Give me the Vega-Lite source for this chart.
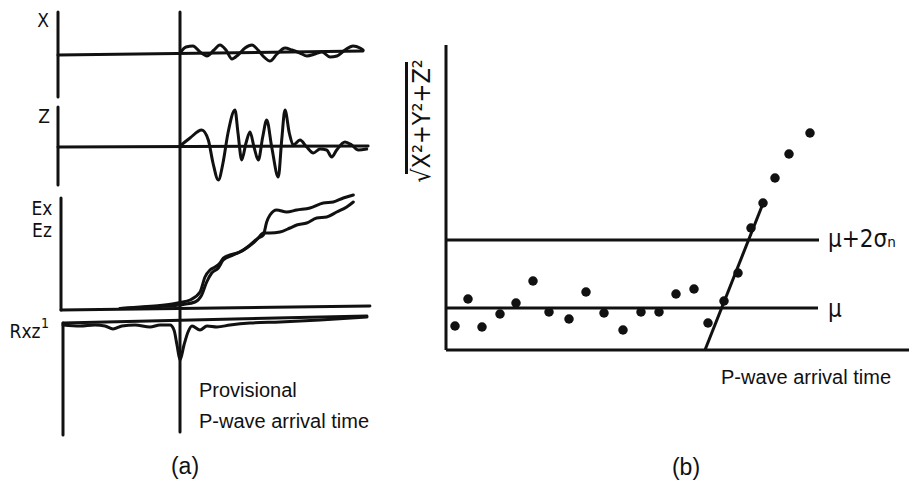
{
  "$schema": "https://vega.github.io/schema/vega-lite/v6.json",
  "padding": 0,
  "spacing": 0,
  "bounds": "flush",
  "background": "white",
  "config": {"view": {"stroke": null}, "text": {"color": "#111"}},
  "hconcat": [
    {
      "width": 400,
      "height": 493,
      "layer": [
        {
          "data": {"values": [
            {"id": "xaxis", "t": -0.667, "v": 48.1}, {"id": "xaxis", "t": -0.667, "v": 39.6},
            {"id": "arrival", "t": 40, "v": 48.1}, {"id": "arrival", "t": 40, "v": 6.1},
            {"id": "xbase", "t": -0.667, "v": 43.8}, {"id": "xbase", "t": 101, "v": 44.2},
            {"id": "zaxis", "t": -0.667, "v": 38.6}, {"id": "zaxis", "t": -0.667, "v": 30.8},
            {"id": "zbase", "t": -0.667, "v": 34.6}, {"id": "zbase", "t": 102.7, "v": 34.7},
            {"id": "eaxis", "t": 0.333, "v": 29.5}, {"id": "eaxis", "t": 0.333, "v": 18.3},
            {"id": "ebase", "t": 0.333, "v": 18.3}, {"id": "ebase", "t": 103.3, "v": 18.7},
            {"id": "rone", "t": 1, "v": 17.0}, {"id": "rone", "t": 102.3, "v": 17.7},
            {"id": "raxis", "t": 1, "v": 17.0}, {"id": "raxis", "t": 1, "v": 5.8}
          ]},
          "mark": {"type": "line", "stroke": "#111", "strokeWidth": 3, "strokeCap": "round"},
          "encoding": {
            "x": {"field": "t", "type": "quantitative", "scale": {"domain": [-20, 113.333], "nice": false, "zero": false}, "axis": null},
            "y": {"field": "v", "type": "quantitative", "scale": {"domain": [0, 49.3], "nice": false, "zero": false}, "axis": null},
            "detail": {"field": "id"}
          }
        },
        {
          "data": {"values": [
            {"id": "X", "t": 40, "v": 44.0}, {"id": "X", "t": 42, "v": 44.6}, {"id": "X", "t": 44.33, "v": 44.7},
            {"id": "X", "t": 46.67, "v": 44.1}, {"id": "X", "t": 49, "v": 43.7}, {"id": "X", "t": 51.33, "v": 44.3},
            {"id": "X", "t": 53.33, "v": 44.8}, {"id": "X", "t": 55.33, "v": 44.3}, {"id": "X", "t": 57.33, "v": 43.4},
            {"id": "X", "t": 59.33, "v": 43.8}, {"id": "X", "t": 61.67, "v": 44.5}, {"id": "X", "t": 64, "v": 44.8},
            {"id": "X", "t": 66, "v": 44.3}, {"id": "X", "t": 68, "v": 43.6}, {"id": "X", "t": 70, "v": 43.2},
            {"id": "X", "t": 72.33, "v": 43.9}, {"id": "X", "t": 75, "v": 44.5}, {"id": "X", "t": 77.33, "v": 44.3},
            {"id": "X", "t": 80, "v": 44.0}, {"id": "X", "t": 82.33, "v": 43.7}, {"id": "X", "t": 85, "v": 43.9},
            {"id": "X", "t": 87.33, "v": 44.1}, {"id": "X", "t": 90, "v": 43.6}, {"id": "X", "t": 92.33, "v": 43.7},
            {"id": "X", "t": 95, "v": 44.3}, {"id": "X", "t": 97.67, "v": 44.7}, {"id": "X", "t": 100, "v": 44.5},
            {"id": "X", "t": 101, "v": 44.3},
            {"id": "Z", "t": 40, "v": 34.7}, {"id": "Z", "t": 43.33, "v": 35.5}, {"id": "Z", "t": 47.23, "v": 36.3},
            {"id": "Z", "t": 49.43, "v": 35.3}, {"id": "Z", "t": 51, "v": 33.0}, {"id": "Z", "t": 52.77, "v": 31.3},
            {"id": "Z", "t": 54.33, "v": 33.0}, {"id": "Z", "t": 56, "v": 36.0}, {"id": "Z", "t": 58.33, "v": 38.3},
            {"id": "Z", "t": 59.33, "v": 36.0}, {"id": "Z", "t": 60.57, "v": 33.3}, {"id": "Z", "t": 62, "v": 35.0},
            {"id": "Z", "t": 63.33, "v": 36.1}, {"id": "Z", "t": 64.67, "v": 34.6}, {"id": "Z", "t": 66.1, "v": 33.3},
            {"id": "Z", "t": 67.57, "v": 35.6}, {"id": "Z", "t": 68.9, "v": 37.3}, {"id": "Z", "t": 70.57, "v": 34.6},
            {"id": "Z", "t": 72.77, "v": 31.6}, {"id": "Z", "t": 73.9, "v": 35.3}, {"id": "Z", "t": 75, "v": 38.3},
            {"id": "Z", "t": 76.43, "v": 36.0}, {"id": "Z", "t": 77.77, "v": 34.8}, {"id": "Z", "t": 80, "v": 35.3},
            {"id": "Z", "t": 82.23, "v": 34.6}, {"id": "Z", "t": 84.43, "v": 34.0}, {"id": "Z", "t": 86.67, "v": 34.4},
            {"id": "Z", "t": 88.9, "v": 34.3}, {"id": "Z", "t": 90.57, "v": 33.6}, {"id": "Z", "t": 92.23, "v": 34.3},
            {"id": "Z", "t": 95, "v": 35.1}, {"id": "Z", "t": 97.23, "v": 34.8}, {"id": "Z", "t": 99.43, "v": 34.3},
            {"id": "Z", "t": 102.23, "v": 34.4},
            {"id": "Ex", "t": 20, "v": 18.45}, {"id": "Ex", "t": 26.67, "v": 18.6}, {"id": "Ex", "t": 33.33, "v": 18.75},
            {"id": "Ex", "t": 38.33, "v": 18.95}, {"id": "Ex", "t": 40, "v": 19.05}, {"id": "Ex", "t": 43.33, "v": 19.3},
            {"id": "Ex", "t": 46.67, "v": 20.1}, {"id": "Ex", "t": 48.33, "v": 21.6}, {"id": "Ex", "t": 50, "v": 22.3},
            {"id": "Ex", "t": 51.67, "v": 22.6}, {"id": "Ex", "t": 53.33, "v": 23.0}, {"id": "Ex", "t": 54.43, "v": 23.5},
            {"id": "Ex", "t": 56.67, "v": 23.8}, {"id": "Ex", "t": 60, "v": 24.1}, {"id": "Ex", "t": 63.33, "v": 24.8},
            {"id": "Ex", "t": 66.1, "v": 25.5}, {"id": "Ex", "t": 67.77, "v": 25.8}, {"id": "Ex", "t": 68.9, "v": 27.1},
            {"id": "Ex", "t": 70, "v": 27.8}, {"id": "Ex", "t": 72.23, "v": 28.3}, {"id": "Ex", "t": 75.57, "v": 28.1},
            {"id": "Ex", "t": 78.9, "v": 28.3}, {"id": "Ex", "t": 83.33, "v": 28.5}, {"id": "Ex", "t": 87.77, "v": 29.0},
            {"id": "Ex", "t": 91.1, "v": 29.1}, {"id": "Ex", "t": 94.43, "v": 29.5}, {"id": "Ex", "t": 97.77, "v": 29.8},
            {"id": "Ez", "t": 20, "v": 18.45}, {"id": "Ez", "t": 26.67, "v": 18.55}, {"id": "Ez", "t": 33.33, "v": 18.65},
            {"id": "Ez", "t": 38.33, "v": 18.75}, {"id": "Ez", "t": 41.1, "v": 18.85}, {"id": "Ez", "t": 45, "v": 19.1},
            {"id": "Ez", "t": 47.23, "v": 19.8}, {"id": "Ez", "t": 48.9, "v": 21.1}, {"id": "Ez", "t": 50.57, "v": 22.0},
            {"id": "Ez", "t": 52.77, "v": 22.5}, {"id": "Ez", "t": 54.43, "v": 23.3}, {"id": "Ez", "t": 57.77, "v": 23.8},
            {"id": "Ez", "t": 62.23, "v": 24.5}, {"id": "Ez", "t": 64.43, "v": 25.0}, {"id": "Ez", "t": 66.1, "v": 25.5},
            {"id": "Ez", "t": 67.77, "v": 26.0}, {"id": "Ez", "t": 70, "v": 26.0}, {"id": "Ez", "t": 73.33, "v": 26.1},
            {"id": "Ez", "t": 76.67, "v": 26.5}, {"id": "Ez", "t": 78.9, "v": 26.8}, {"id": "Ez", "t": 82.23, "v": 27.0},
            {"id": "Ez", "t": 85.57, "v": 27.5}, {"id": "Ez", "t": 88.9, "v": 27.6}, {"id": "Ez", "t": 92.23, "v": 28.1},
            {"id": "Ez", "t": 95.57, "v": 28.6}, {"id": "Ez", "t": 97.77, "v": 29.1},
            {"id": "Rxz", "t": 1, "v": 16.8}, {"id": "Rxz", "t": 6.67, "v": 16.7}, {"id": "Rxz", "t": 11.67, "v": 16.8},
            {"id": "Rxz", "t": 15, "v": 16.7}, {"id": "Rxz", "t": 17.67, "v": 16.4}, {"id": "Rxz", "t": 20.67, "v": 16.7},
            {"id": "Rxz", "t": 25, "v": 16.8}, {"id": "Rxz", "t": 30, "v": 16.6}, {"id": "Rxz", "t": 33.33, "v": 16.8},
            {"id": "Rxz", "t": 36.67, "v": 16.8}, {"id": "Rxz", "t": 38, "v": 16.3}, {"id": "Rxz", "t": 39, "v": 14.8},
            {"id": "Rxz", "t": 40, "v": 13.3}, {"id": "Rxz", "t": 41.33, "v": 14.8}, {"id": "Rxz", "t": 42.67, "v": 16.1},
            {"id": "Rxz", "t": 44, "v": 16.7}, {"id": "Rxz", "t": 46.67, "v": 16.3}, {"id": "Rxz", "t": 49, "v": 16.7},
            {"id": "Rxz", "t": 52.33, "v": 16.6}, {"id": "Rxz", "t": 56.67, "v": 16.8}, {"id": "Rxz", "t": 63.33, "v": 17.0},
            {"id": "Rxz", "t": 73.33, "v": 17.1}, {"id": "Rxz", "t": 86.67, "v": 17.3}, {"id": "Rxz", "t": 102.33, "v": 17.6}
          ]},
          "mark": {"type": "line", "stroke": "#111", "strokeWidth": 3, "interpolate": "monotone", "strokeCap": "round"},
          "encoding": {
            "x": {"field": "t", "type": "quantitative"},
            "y": {"field": "v", "type": "quantitative"},
            "detail": {"field": "id"}
          }
        },
        {
          "data": {"values": [
            {"label": "X", "t": -5.67, "v": 47.2},
            {"label": "Z", "t": -5.33, "v": 37.6},
            {"label": "Ex", "t": -6, "v": 28.4},
            {"label": "Ez", "t": -6, "v": 26.2},
            {"label": "Rxz", "t": -11.67, "v": 16.1}
          ]},
          "mark": {"type": "text", "font": "Liberation Sans Narrow, DejaVu Sans Condensed, Liberation Sans", "fontSize": 19, "align": "center", "baseline": "middle"},
          "encoding": {"x": {"field": "t", "type": "quantitative"}, "y": {"field": "v", "type": "quantitative"}, "text": {"field": "label"}}
        },
        {
          "data": {"values": [{"label": "1", "t": -5, "v": 16.9}]},
          "mark": {"type": "text", "font": "Liberation Sans Narrow, DejaVu Sans Condensed, Liberation Sans", "fontSize": 14, "align": "center", "baseline": "middle"},
          "encoding": {"x": {"field": "t", "type": "quantitative"}, "y": {"field": "v", "type": "quantitative"}, "text": {"field": "label"}}
        },
        {
          "data": {"values": [
            {"label": "Provisional", "t": 46.33, "v": 10.2},
            {"label": "P-wave arrival time", "t": 46.33, "v": 7.1}
          ]},
          "mark": {"type": "text", "font": "Liberation Sans", "fontSize": 20, "align": "left", "baseline": "middle"},
          "encoding": {"x": {"field": "t", "type": "quantitative"}, "y": {"field": "v", "type": "quantitative"}, "text": {"field": "label"}}
        },
        {
          "data": {"values": [{"label": "(a)", "t": 41.67, "v": 2.6}]},
          "mark": {"type": "text", "font": "Liberation Sans", "fontSize": 23, "align": "center", "baseline": "middle"},
          "encoding": {"x": {"field": "t", "type": "quantitative"}, "y": {"field": "v", "type": "quantitative"}, "text": {"field": "label"}}
        }
      ]
    },
    {
      "width": 509,
      "height": 493,
      "layer": [
        {
          "data": {"values": [
            {"id": "yaxis", "x": 0, "y": 30.5}, {"id": "yaxis", "x": 0, "y": 0},
            {"id": "bottom", "x": 0, "y": 0}, {"id": "bottom", "x": 46.3, "y": 0},
            {"id": "mu2s", "x": 0, "y": 11.0}, {"id": "mu2s", "x": 37.3, "y": 11.0},
            {"id": "mu", "x": 0, "y": 4.2}, {"id": "mu", "x": 37.2, "y": 4.2},
            {"id": "fit", "x": 25.9, "y": 0}, {"id": "fit", "x": 31.6, "y": 14.4},
            {"id": "vinc", "x": -3.95, "y": 28.8}, {"id": "vinc", "x": -3.95, "y": 17.6}
          ]},
          "mark": {"type": "line", "stroke": "#111", "strokeWidth": 3},
          "encoding": {
            "x": {"field": "x", "type": "quantitative", "scale": {"domain": [-4.6, 46.3], "nice": false, "zero": false}, "axis": null},
            "y": {"field": "y", "type": "quantitative", "scale": {"domain": [-14.3, 35.0], "nice": false, "zero": false}, "axis": null},
            "detail": {"field": "id"}
          }
        },
        {
          "data": {"values": [
            {"x": 0.9, "y": 2.4}, {"x": 2.2, "y": 5.1}, {"x": 3.6, "y": 2.3}, {"x": 5.4, "y": 3.6},
            {"x": 7.0, "y": 4.7}, {"x": 8.7, "y": 6.9}, {"x": 10.3, "y": 3.8}, {"x": 12.3, "y": 3.1},
            {"x": 14.0, "y": 5.8}, {"x": 15.8, "y": 3.7}, {"x": 17.7, "y": 2.0}, {"x": 19.5, "y": 3.8},
            {"x": 21.3, "y": 3.8}, {"x": 23.0, "y": 5.6}, {"x": 24.8, "y": 6.1}, {"x": 26.2, "y": 2.7},
            {"x": 27.8, "y": 4.9}, {"x": 29.2, "y": 7.7}, {"x": 30.5, "y": 12.2}, {"x": 31.7, "y": 14.7},
            {"x": 32.9, "y": 17.2}, {"x": 34.3, "y": 19.6}, {"x": 36.4, "y": 21.7}
          ]},
          "mark": {"type": "point", "filled": true, "color": "#111", "opacity": 1, "size": 90},
          "encoding": {"x": {"field": "x", "type": "quantitative"}, "y": {"field": "y", "type": "quantitative"}}
        },
        {
          "data": {"values": [
            {"label": "μ+2σₙ", "x": 38.2, "y": 11.0},
            {"label": "μ", "x": 38.2, "y": 4.0}
          ]},
          "mark": {"type": "text", "font": "Liberation Sans Narrow, DejaVu Sans Condensed, Liberation Sans", "fontSize": 24, "align": "left", "baseline": "middle"},
          "encoding": {"x": {"field": "x", "type": "quantitative"}, "y": {"field": "y", "type": "quantitative"}, "text": {"field": "label"}}
        },
        {
          "data": {"values": [{"label": "√X²+Y²+Z²", "x": -2.45, "y": 22.9}]},
          "mark": {"type": "text", "font": "Liberation Sans Narrow, DejaVu Sans Condensed, Liberation Sans", "fontSize": 25, "align": "center", "baseline": "middle", "angle": 270},
          "encoding": {"x": {"field": "x", "type": "quantitative"}, "y": {"field": "y", "type": "quantitative"}, "text": {"field": "label"}}
        },
        {
          "data": {"values": [{"label": "P-wave arrival time", "x": 36.0, "y": -2.8}]},
          "mark": {"type": "text", "font": "Liberation Sans", "fontSize": 20, "align": "center", "baseline": "middle"},
          "encoding": {"x": {"field": "x", "type": "quantitative"}, "y": {"field": "y", "type": "quantitative"}, "text": {"field": "label"}}
        },
        {
          "data": {"values": [{"label": "(b)", "x": 24.0, "y": -11.8}]},
          "mark": {"type": "text", "font": "Liberation Sans", "fontSize": 23, "align": "center", "baseline": "middle"},
          "encoding": {"x": {"field": "x", "type": "quantitative"}, "y": {"field": "y", "type": "quantitative"}, "text": {"field": "label"}}
        }
      ]
    }
  ]
}
